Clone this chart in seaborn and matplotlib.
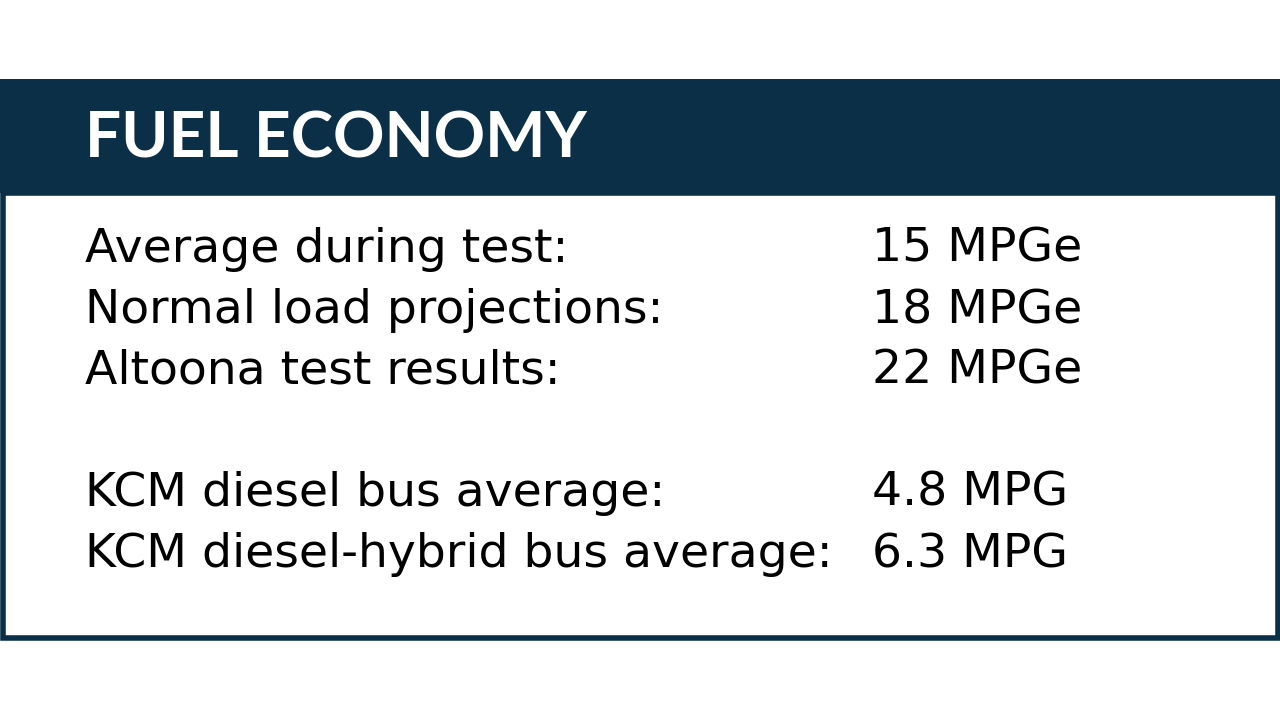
import matplotlib
matplotlib.use("Agg")
import matplotlib.pyplot as plt
from matplotlib.patches import Rectangle
import seaborn as sns

# Fuel economy figures
title = "FUEL ECONOMY"
labels = ["Average during test:", "Normal load projections:", "Altoona test results:",
          "", "KCM diesel bus average:", "KCM diesel-hybrid bus average:"]
values = ["15", "18", "22", "", "4.8", "6.3"]
units = ["MPGe", "MPGe", "MPGe", "", "MPG", "MPG"]

navy = "#0c2f48"

sns.set_theme(style="white")
plt.rcParams['font.family'] = ['DejaVu Sans']

fig = plt.figure(figsize=(12.8, 7.2), dpi=100)
ax = fig.add_axes([0, 0, 1, 1])
ax.set_xlim(0, 1280)
ax.set_ylim(720, 0)
ax.axis("off")

# header band and framed box
ax.add_patch(Rectangle((0, 79), 1280, 114, color=navy, lw=0))
ax.add_patch(Rectangle((2.5, 193), 1275, 445, facecolor="white", edgecolor=navy, lw=4))

ax.text(85, 158, title, color="white", fontsize=46, fontweight="bold",
        family=["Lato", "DejaVu Sans"], va="baseline", ha="left")

row_y = 262
for lab, val, unit in zip(labels, values, units):
    if lab:
        ax.text(85, row_y, lab, color="black", fontsize=34, va="baseline", ha="left")
        ax.text(872, row_y, f"{val} {unit}", color="black", fontsize=34,
                va="baseline", ha="left")
    row_y += 61

fig.savefig("out.png", dpi=100)
